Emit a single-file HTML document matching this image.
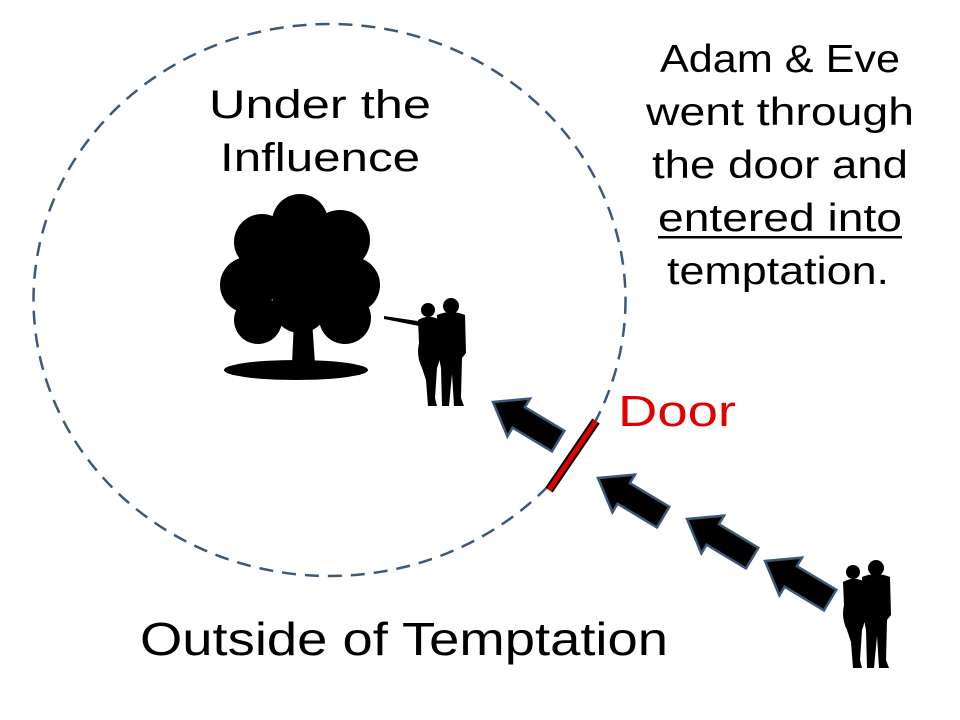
<!DOCTYPE html>
<html><head><meta charset="utf-8"><style>
html,body{margin:0;padding:0;background:#fff;}
svg{display:block;font-family:"Liberation Sans",sans-serif;}
</style></head><body>
<svg width="960" height="720" viewBox="0 0 960 720">
<defs>
<g id="arrow"><path d="M0,0 L30,-22 L30,-12 L76,-12 L76,12 L30,12 L30,22 Z" fill="#000" stroke="#3e5878" stroke-width="2.5" stroke-linejoin="miter"/></g>
<g id="couple">
<circle cx="13" cy="12" r="7"/><circle cx="36" cy="8" r="8"/>
<path d="M3,22 Q13,16 23,21 L25,50 Q26,60 22,70 L20,100 L22,108 L13,108 L11,82 L7,70 Q1,58 4,45 Z"/>
<path d="M22,17 Q36,11 50,17 L51,55 L47,60 L46,100 L49,108 L39,108 L37,76 L34,108 L27,108 L26,70 L22,50 Z"/>
</g>
</defs>
<ellipse cx="329.5" cy="300" rx="296" ry="276" fill="none" stroke="#3e5878" stroke-width="2.5" stroke-dasharray="14,9"/>
<text x="320" y="118" font-size="40" text-anchor="middle" textLength="222" lengthAdjust="spacingAndGlyphs">Under the</text>
<text x="320" y="171" font-size="40" text-anchor="middle" textLength="200" lengthAdjust="spacingAndGlyphs">Influence</text>
<g font-size="39" text-anchor="middle">
<text x="780" y="72" textLength="240" lengthAdjust="spacingAndGlyphs">Adam &amp; Eve</text>
<text x="780" y="125" textLength="268" lengthAdjust="spacingAndGlyphs">went through</text>
<text x="780" y="178" textLength="256" lengthAdjust="spacingAndGlyphs">the door and</text>
<text x="780" y="231" textLength="244" lengthAdjust="spacingAndGlyphs">entered into</text>
<text x="778" y="284" textLength="222" lengthAdjust="spacingAndGlyphs">temptation.</text>
</g>
<rect x="658" y="236" width="244" height="2.5" fill="#000"/>
<text x="140" y="655" font-size="46" textLength="528" lengthAdjust="spacingAndGlyphs">Outside of Temptation</text>
<text x="618" y="426" font-size="44" fill="#e00000" textLength="118" lengthAdjust="spacingAndGlyphs">Door</text>
<!-- tree -->
<g fill="#000">
<circle cx="300" cy="222" r="28"/><circle cx="262" cy="242" r="28"/><circle cx="340" cy="240" r="30"/>
<circle cx="248" cy="285" r="28"/><circle cx="300" cy="270" r="40"/><circle cx="352" cy="285" r="28"/>
<circle cx="258" cy="320" r="24"/><circle cx="345" cy="318" r="26"/><circle cx="300" cy="305" r="28"/>
<path d="M294,320 L312,320 L315,364 L292,364 Z"/>
<ellipse cx="296" cy="370" rx="72" ry="10"/>
</g>
<use href="#couple" transform="translate(415,298)"/>
<path d="M384,316 L424,322 L424,327 L384,319 Z" fill="#000"/>
<use href="#couple" transform="translate(840,560)"/>
<!-- door -->
<line x1="596" y1="421" x2="549" y2="490" stroke="#000" stroke-width="9"/>
<line x1="596" y1="421" x2="549" y2="490" stroke="#e00000" stroke-width="5"/>
<use href="#arrow" transform="translate(493,402) rotate(31)"/>
<use href="#arrow" transform="translate(598,478) rotate(31)"/>
<use href="#arrow" transform="translate(687,519) rotate(31)"/>
<use href="#arrow" transform="translate(765,561) rotate(31)"/>
</svg>
</body></html>
